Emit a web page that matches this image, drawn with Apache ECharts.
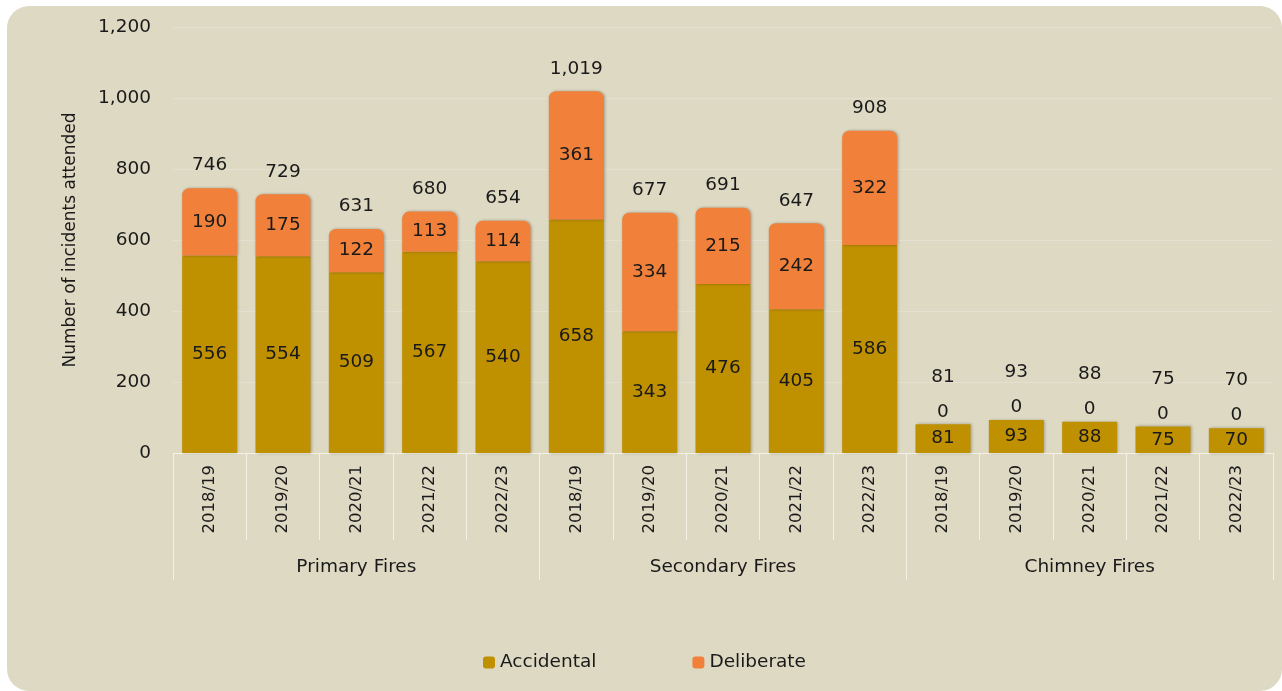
<!DOCTYPE html>
<html lang="en">
<head>
    <meta charset="UTF-8">
    <title>Incidents attended</title>
    <style>
        body { margin: 0; background: #fff; }
        #wrap { position: absolute; left: 7px; top: 6px; width: 1275px; height: 685px; background: #DDD9C3; border-radius: 22px; overflow: hidden; }
        #main { width: 1275px; height: 685px; }
    </style>
</head>
<body>
<div id="wrap"><div id="main"></div></div>
<script src="https://cdn.jsdelivr.net/npm/echarts@6/dist/echarts.min.js"></script>
<script>
    // data
    var groups = ['Primary Fires', 'Secondary Fires', 'Chimney Fires'];
    var years = ['2018/19', '2019/20', '2020/21', '2021/22', '2022/23'];
    var accidental = [556, 554, 509, 567, 540, 658, 343, 476, 405, 586, 81, 93, 88, 75, 70];
    var deliberate = [190, 175, 122, 113, 114, 361, 334, 215, 242, 322, 0, 0, 0, 0, 0];

    var cats = [];
    groups.forEach(function (g) {
        years.forEach(function (y) { cats.push(y); });
    });

    var font = 'DejaVu Sans';
    var txt = '#1a1a1a';
    var lineCol = '#f3f1e8';
    var fs = 18.5;

    var myChart = echarts.init(document.getElementById('main'));

    myChart.setOption({
        textStyle: { fontFamily: font },
        animation: false,
        legend: {
            data: ['Accidental', 'Deliberate'],
            bottom: 14,
            left: 'center',
            itemWidth: 12,
            itemHeight: 12,
            itemGap: 96,
            textStyle: { fontSize: fs, color: txt, fontFamily: font }
        },
        grid: { left: 166, right: 9, top: 21, bottom: 238 },
        xAxis: [
            {
                type: 'category',
                data: cats,
                axisLine: { lineStyle: { color: lineCol, width: 1 } },
                axisTick: { show: true, interval: 0, length: 87, lineStyle: { color: lineCol } },
                axisLabel: { interval: 0, rotate: 90, margin: 12, fontSize: 16.5, color: txt, fontFamily: font }
            },
            {
                type: 'category',
                data: groups,
                position: 'bottom',
                axisLine: { show: false },
                axisTick: { show: true, interval: 0, length: 127, lineStyle: { color: lineCol } },
                axisLabel: { interval: 0, margin: 105, fontSize: fs, color: txt, fontFamily: font }
            }
        ],
        yAxis: {
            type: 'value',
            min: 0,
            max: 1200,
            interval: 200,
            name: 'Number of incidents attended',
            nameLocation: 'middle',
            nameGap: 94,
            nameTextStyle: { fontSize: 17, color: txt, fontFamily: font },
            axisLine: { show: false },
            axisTick: { show: false },
            splitLine: { lineStyle: { color: '#e3e0cf' } },
            axisLabel: {
                fontSize: fs, color: txt, margin: 22, fontFamily: font,
                formatter: function (v) { return v.toLocaleString('en-GB'); }
            }
        },
        series: [
            {
                name: 'Accidental',
                type: 'bar',
                stack: 'all',
                barWidth: '75%',
                data: accidental,
                itemStyle: { color: '#BF9000', shadowColor: 'rgba(0,0,0,0.3)', shadowBlur: 3, shadowOffsetX: 1, shadowOffsetY: 0 },
                label: { show: true, position: 'inside', fontSize: fs, color: txt, fontFamily: font }
            },
            {
                name: 'Deliberate',
                type: 'bar',
                stack: 'all',
                data: deliberate.map(function (v) {
                    return v === 0
                        ? { value: v, label: { position: 'top', distance: 3 } }
                        : v;
                }),
                itemStyle: { color: '#F0803A', borderRadius: [7, 7, 0, 0], shadowColor: 'rgba(0,0,0,0.3)', shadowBlur: 3, shadowOffsetX: 1, shadowOffsetY: 0 },
                label: { show: true, position: 'inside', fontSize: fs, color: txt, fontFamily: font }
            },
            {
                name: 'Total',
                type: 'bar',
                stack: 'all',
                data: deliberate.map(function (v) {
                    return v === 0
                        ? { value: 0, label: { distance: 38 } }
                        : 0;
                }),
                itemStyle: { color: 'transparent' },
                label: {
                    show: true, position: 'top', distance: 13, fontSize: fs, color: txt, fontFamily: font,
                    formatter: function (p) {
                        return (accidental[p.dataIndex] + deliberate[p.dataIndex]).toLocaleString('en-GB');
                    }
                }
            }
        ]
    });
</script>
</body>
</html>
